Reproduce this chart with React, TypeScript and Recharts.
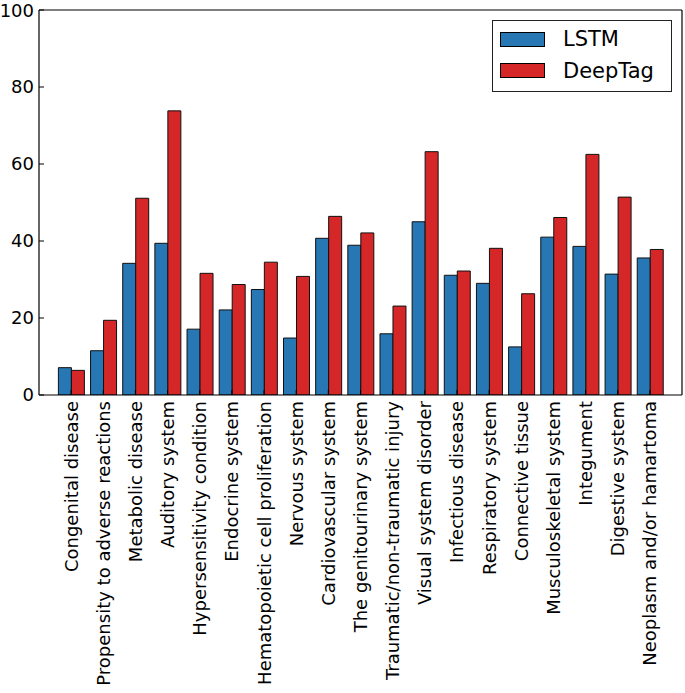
import React from "react";
import { BarChart, Bar, XAxis, YAxis, Legend } from "recharts";

const categories = [
  "Congenital disease",
  "Propensity to adverse reactions",
  "Metabolic disease",
  "Auditory system",
  "Hypersensitivity condition",
  "Endocrine system",
  "Hematopoietic cell proliferation",
  "Nervous system",
  "Cardiovascular system",
  "The genitourinary system",
  "Traumatic/non-traumatic injury",
  "Visual system disorder",
  "Infectious disease",
  "Respiratory system",
  "Connective tissue",
  "Musculoskeletal system",
  "Integument",
  "Digestive system",
  "Neoplasm and/or hamartoma",
];

const lstmValues = [7.1, 11.5, 34.2, 39.4, 17.1, 22.1, 27.4, 14.8, 40.7, 38.9, 15.9, 45.0, 31.1, 29.0, 12.5, 41.0, 38.6, 31.4, 35.6];
const deepTagValues = [6.4, 19.4, 51.1, 73.8, 31.6, 28.7, 34.5, 30.8, 46.4, 42.1, 23.1, 63.2, 32.2, 38.1, 26.3, 46.1, 62.5, 51.4, 37.8];
const yTicks = [0, 20, 40, 60, 80, 100];

const data = categories.map((name, i) => ({
  name,
  LSTM: lstmValues[i],
  DeepTag: deepTagValues[i],
}));

const FONT = "'DejaVu Sans', sans-serif";
const BLUE = "#2677b4";
const RED = "#d62728";

const XTick = (props: any) => {
  const { x, y, payload } = props;
  return (
    <text
      transform={`translate(${x},${y}) rotate(-90)`}
      textAnchor="end"
      dominantBaseline="central"
      fontSize={18}
      fontFamily={FONT}
      fill="#000"
    >
      {payload.value}
    </text>
  );
};

const LegendBox = () => {
  const items = [
    { label: "LSTM", color: BLUE },
    { label: "DeepTag", color: RED },
  ];
  return (
    <div
      style={{
        position: "relative",
        width: 180,
        height: 72,
        boxSizing: "border-box",
        border: "1.5px solid #222",
        background: "#fff",
        fontFamily: FONT,
      }}
    >
      {items.map((it, i) => (
        <div key={it.label}>
          <div
            style={{
              position: "absolute",
              left: 7,
              top: 10.5 + i * 31.5,
              width: 45,
              height: 15,
              boxSizing: "border-box",
              border: "1px solid #000",
              background: it.color,
            }}
          />
          <div
            style={{
              position: "absolute",
              left: 70,
              top: 18 + i * 31.5 - 13,
              height: 26,
              lineHeight: "26px",
              fontSize: 21,
              color: "#000",
              whiteSpace: "nowrap",
            }}
          >
            {it.label}
          </div>
        </div>
      ))}
    </div>
  );
};

export default function App() {
  return (
    <div style={{ position: "absolute", left: 0, top: 0, width: 685, height: 693, background: "#fff" }}>
      <BarChart
        width={685}
        height={693}
        data={data}
        margin={{ top: 9, right: 2, bottom: 0, left: 0 }}
        barCategoryGap={3.4}
        barGap={0}
      >
        <XAxis
          xAxisId="bottom"
          dataKey="name"
          orientation="bottom"
          height={298}
          interval={0}
          padding={{ left: 16, right: 16 }}
          tickSize={-5}
          tickMargin={11}
          tick={<XTick />}
          axisLine={{ stroke: "#000", strokeWidth: 1.2 }}
          tickLine={{ stroke: "#000" }}
        />
        <XAxis
          xAxisId="top"
          dataKey="name"
          orientation="top"
          height={1}
          interval={0}
          padding={{ left: 16, right: 16 }}
          tickSize={-5}
          tick={false}
          axisLine={{ stroke: "#000", strokeWidth: 1.2 }}
          tickLine={{ stroke: "#000" }}
        />
        <YAxis
          yAxisId="left"
          orientation="left"
          width={39}
          domain={[0, 100]}
          ticks={yTicks}
          allowDataOverflow
          tickSize={-5}
          tickMargin={10}
          tick={{ fill: "#000", fontSize: 18, fontFamily: FONT }}
          axisLine={{ stroke: "#000", strokeWidth: 1.2 }}
          tickLine={{ stroke: "#000" }}
        />
        <YAxis
          yAxisId="right"
          orientation="right"
          width={1}
          domain={[0, 100]}
          ticks={yTicks}
          allowDataOverflow
          tickSize={-5}
          tick={false}
          axisLine={{ stroke: "#000", strokeWidth: 1.2 }}
          tickLine={{ stroke: "#000" }}
        />
        <Legend
          layout="vertical"
          align="center"
          verticalAlign="middle"
          content={<LegendBox />}
          wrapperStyle={{ position: "absolute", left: 492, top: 20, width: 180, height: 72, margin: 0 }}
        />
        <Bar
          dataKey="LSTM"
          xAxisId="bottom"
          yAxisId="left"
          fill={BLUE}
          stroke="#111"
          strokeWidth={1}
          isAnimationActive={false}
        />
        <Bar
          dataKey="DeepTag"
          xAxisId="bottom"
          yAxisId="right"
          fill={RED}
          stroke="#111"
          strokeWidth={1}
          isAnimationActive={false}
        />
      </BarChart>
    </div>
  );
}
